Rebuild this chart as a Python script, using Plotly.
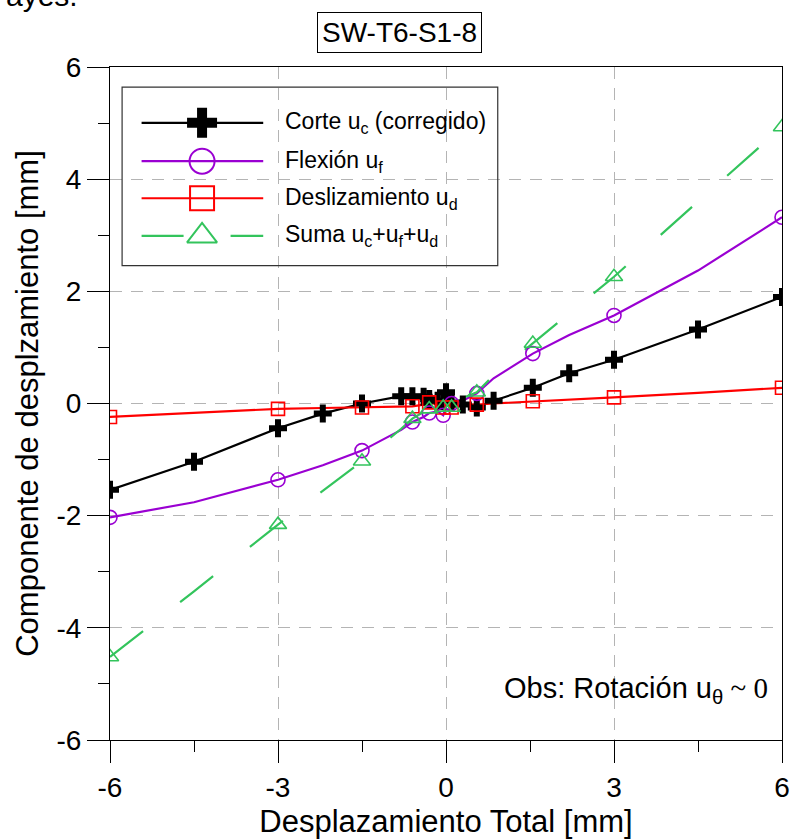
import plotly.graph_objects as go

# Total displacement [mm] shared by all components
desp_total = [-6.0, -4.5, -3.0, -2.2, -1.5, -0.8, -0.6, -0.4, -0.3, -0.15, -0.05,
              0.0, 0.1, 0.3, 0.55, 0.85, 1.55, 2.2, 3.0, 4.5, 6.0]

# Components [mm]
corte = [-1.54, -1.04, -0.44, -0.18, 0.00, 0.13, 0.13, 0.12, 0.08, 0.05, 0.04,
         0.20, 0.02, -0.02, -0.07, 0.05, 0.28, 0.54, 0.78, 1.32, 1.90]
flexion = [-2.03, -1.76, -1.36, -1.10, -0.84, -0.47, -0.33, -0.24, -0.17, -0.14, -0.21,
           -0.05, 0.00, 0.05, 0.18, 0.45, 0.89, 1.22, 1.57, 2.37, 3.32]
deslizamiento = [-0.24, -0.17, -0.095, -0.08, -0.07, -0.06, -0.05, -0.02, 0.02, -0.02, -0.07,
                 -0.03, -0.07, -0.02, -0.02, 0.00, 0.04, 0.07, 0.11, 0.19, 0.28]
suma = [-4.52, -3.35, -2.16, -1.55, -1.03, -0.45, -0.27, -0.15, -0.10, -0.05, -0.07,
        0.10, -0.07, 0.10, 0.20, 0.50, 1.07, 1.60, 2.26, 3.60, 4.93]

x_ticks = [-6, -3, 0, 3, 6]
y_ticks = [-6, -4, -2, 0, 2, 4, 6]

legend_labels = ["Corte u<sub>c</sub> (corregido)", "Flexión u<sub>f</sub>",
                 "Deslizamiento u<sub>d</sub>", "Suma u<sub>c</sub>+u<sub>f</sub>+u<sub>d</sub>"]

FONT = "Liberation Sans, Arial, sans-serif"
BLACK = "#000000"
PURPLE = "#9a00d2"
RED = "#ff0000"
GREEN = "#33c45c"
DASH = "42px,47px"

series = [
    # values, colour, symbol, plot size, legend size, dash, markers on every point
    (corte, BLACK, "cross", 15, 25, "solid", True),
    (flexion, PURPLE, "circle-open", 14, 25, "solid", False),
    (deslizamiento, RED, "square-open", 13, 24, "solid", False),
    (suma, GREEN, "triangle-up-open", 15, 26, DASH, False),
]

fig = go.Figure()

for vals, col, sym, sz, _, dash, every in series:
    fig.add_trace(go.Scatter(
        x=desp_total, y=vals, mode="lines",
        line=dict(color=col, width=2.2, dash=dash),
        showlegend=False, hoverinfo="skip"))
for vals, col, sym, sz, _, dash, every in series:
    step = 1 if every else 2
    line_w = 0 if sym == "cross" else 1.6
    fig.add_trace(go.Scatter(
        x=desp_total[::step], y=vals[::step], mode="markers",
        marker=dict(symbol=sym, size=sz, color=col, line=dict(color=col, width=line_w)),
        showlegend=False, hoverinfo="skip"))

# Legend drawn on an overlay axis spanning the plot area in [0, 1]
leg_left, leg_right, leg_top, leg_bottom = 0.018, 0.577, 0.970, 0.705
row_y = [0.917, 0.860, 0.805, 0.749]
sample_x = [0.047, 0.228]
marker_x = 0.137
text_x = 0.257

fig.add_shape(type="rect", xref="paper", yref="paper",
              x0=leg_left, x1=leg_right, y0=leg_bottom, y1=leg_top,
              line=dict(color="#333333", width=1.2), fillcolor="rgba(0,0,0,0)", layer="above")

for (vals, col, sym, sz, lsz, dash, every), ry, lab in zip(series, row_y, legend_labels):
    fig.add_trace(go.Scatter(
        x=sample_x, y=[ry, ry], xaxis="x2", yaxis="y2", mode="lines",
        line=dict(color=col, width=2.2, dash=dash), showlegend=False, hoverinfo="skip"))
    line_w = 0 if sym == "cross" else 2
    fig.add_trace(go.Scatter(
        x=[marker_x], y=[ry], xaxis="x2", yaxis="y2", mode="markers",
        marker=dict(symbol=sym, size=lsz, color=col, line=dict(color=col, width=line_w)),
        showlegend=False, hoverinfo="skip"))
    fig.add_annotation(x=text_x, y=ry, xref="paper", yref="paper", text=lab,
                       showarrow=False, xanchor="left", yanchor="middle",
                       font=dict(family=FONT, size=23, color="black"))

axis_common = dict(
    showline=True, linecolor="black", linewidth=1.2, mirror=True,
    ticks="outside", ticklen=22, tickwidth=1, tickcolor="black",
    showgrid=True, gridcolor="#b4b4b4", gridwidth=1, griddash="12px,9px",
    zeroline=False, automargin=False,
    tickfont=dict(family=FONT, size=28, color="black"),
    title_font=dict(family=FONT, size=31, color="black"),
)

fig.update_layout(
    width=793, height=840,
    margin=dict(l=110, r=11, t=67, b=100),
    paper_bgcolor="white", plot_bgcolor="white",
    xaxis=dict(range=[-6, 6], tickvals=x_ticks, ticktext=[str(v) for v in x_ticks],
               minor=dict(dtick=1.5, tick0=0, ticklen=11, ticks="outside",
                          tickcolor="black", showgrid=False),
               title=dict(text="Desplazamiento Total [mm]", standoff=8),
               **axis_common),
    yaxis=dict(range=[-6, 6], tickvals=y_ticks, ticktext=[str(v) for v in y_ticks],
               minor=dict(dtick=1, tick0=0, ticklen=11, ticks="outside",
                          tickcolor="black", showgrid=False),
               title=dict(text="Componente de desplzamiento [mm]", standoff=8),
               **axis_common),
    xaxis2=dict(range=[0, 1], overlaying="x", visible=False, fixedrange=True),
    yaxis2=dict(range=[0, 1], overlaying="y", visible=False, fixedrange=True),
    showlegend=False,
)

# Chart title in a box
fig.add_annotation(x=0.431, y=1.052, xref="paper", yref="paper", text="SW-T6-S1-8",
                   showarrow=False, xanchor="center", yanchor="middle",
                   bordercolor="black", borderwidth=1, borderpad=4, bgcolor="white",
                   font=dict(family=FONT, size=28, color="black"))

# Note on rotation
fig.add_annotation(x=0.982, y=0.074, xref="paper", yref="paper",
                   text="Obs: Rotación u<sub>θ</sub><span style='font-family:Liberation Serif'> ~ 0</span>",
                   showarrow=False, xanchor="right", yanchor="middle",
                   font=dict(family=FONT, size=29, color="black"))

# Running text from the page above the figure
fig.add_annotation(x=-0.158, y=1.079, xref="paper", yref="paper", text="ayes.",
                   showarrow=False, xanchor="left", yanchor="bottom",
                   font=dict(family=FONT, size=30, color="black"))

fig.write_html("out.html")
